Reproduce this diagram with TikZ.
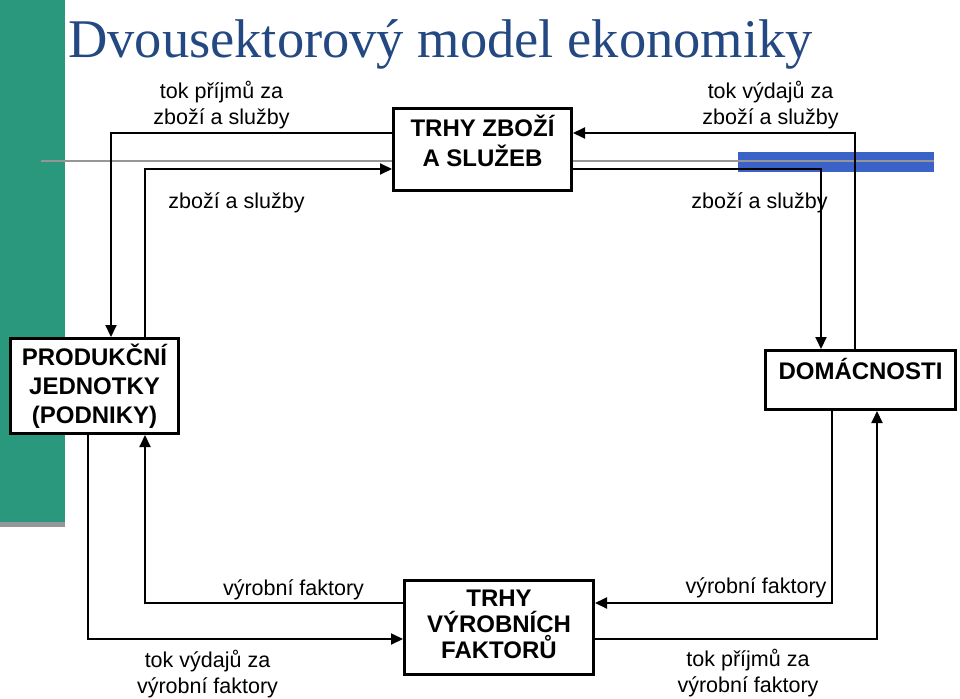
\documentclass[tikz,border=0pt]{standalone}
\usepackage{fontspec}
\setmainfont{Liberation Sans}
\newfontfamily\titlefont{Liberation Serif}
\usetikzlibrary{arrows.meta}
\definecolor{tealbar}{RGB}{42,152,125}
\definecolor{shadowgray}{RGB}{150,150,150}
\definecolor{bluebar}{RGB}{58,98,200}
\definecolor{titleblue}{RGB}{35,72,130}
\newcommand\twoline[2]{\begin{tabular}[t]{@{}c@{}}#1\\#2\end{tabular}}
\begin{document}
\begin{tikzpicture}[x=1pt,y=-1pt,
  boxnode/.style={draw=black, fill=white, line width=3pt, rectangle, inner sep=0pt, align=center},
  lbl/.style={anchor=base, inner sep=0pt, font=\fontsize{21.5}{26}\selectfont},
  conn/.style={draw=black, line width=2pt, -{Triangle[length=12pt,width=11pt]}}]
\useasboundingbox (0,0) rectangle (960,698);
% decoration
\fill[tealbar] (0,0) rectangle (65,522);
\fill[shadowgray] (0,522) rectangle (65,527);
\fill[bluebar] (738,152) rectangle (934,172);
\draw[shadowgray, line width=1.5pt] (41,161) -- (934,161);
% title
\node[anchor=base west, inner sep=0pt, text=titleblue, font={\titlefont\fontsize{54.5}{60}\selectfont}] (title) at (68,58) {Dvousektorový model ekonomiky};
% boxes
\node[boxnode, minimum width=178pt, minimum height=82pt, font={\bfseries\fontsize{24}{30}\selectfont}] (top) at (482.5,149.5) {TRHY ZBOŽÍ\\A SLUŽEB\\[-12pt]\mbox{}};
\node[boxnode, minimum width=168pt, minimum height=95pt, font={\bfseries\fontsize{24}{29}\selectfont}] (prod) at (94.5,386) {PRODUKČNÍ\\JEDNOTKY\\(PODNIKY)};
\node[boxnode, minimum width=190pt, minimum height=59pt, font={\bfseries\fontsize{24}{29}\selectfont}] (dom) at (860.5,380) {DOMÁCNOSTI\\[-6pt]\mbox{}};
\node[boxnode, minimum width=189pt, minimum height=94pt, font={\bfseries\fontsize{24}{26}\selectfont}] (bot) at (499,627.5) {TRHY\\VÝROBNÍCH\\FAKTORŮ\\[-19pt]\mbox{}};
% labels
\node[lbl] (l1) at (221.5,99) {\twoline{tok příjmů za}{zboží a služby}};
\node[lbl] (l2) at (236.5,208) {zboží a služby};
\node[lbl] (l3) at (770.5,99) {\twoline{tok výdajů za}{zboží a služby}};
\node[lbl] (l4) at (759.5,208) {zboží a služby};
\node[lbl] (l5) at (293.5,595) {výrobní faktory};
\node[lbl] (l6) at (207.5,667) {\twoline{tok výdajů za}{výrobní faktory}};
\node[lbl] (l7) at (756,593) {výrobní faktory};
\node[lbl] (l8) at (748,666) {\twoline{tok příjmů za}{výrobní faktory}};
% turning points
\coordinate (ya) at (111,133);
\coordinate (yb) at (145,169);
\coordinate (yc) at (855,133);
\coordinate (yd) at (821,169);
\coordinate (ye) at (88,639);
\coordinate (yf) at (145,603);
\coordinate (yg) at (832,603);
\coordinate (yh) at (877,639);
% connectors
\draw[conn] (top.west |- ya) -| (prod.north -| ya);
\draw[conn] (prod.north -| yb) |- (top.west |- yb);
\draw[conn] (dom.north -| yc) |- (top.east |- yc);
\draw[conn] (top.east |- yd) -| (dom.north -| yd);
\draw[conn] (prod.south -| ye) |- (bot.west |- ye);
\draw[conn] (bot.west |- yf) -| (prod.south -| yf);
\draw[conn] (dom.south -| yg) |- (bot.east |- yg);
\draw[conn] (bot.east |- yh) -| (dom.south -| yh);
\end{tikzpicture}
\end{document}
